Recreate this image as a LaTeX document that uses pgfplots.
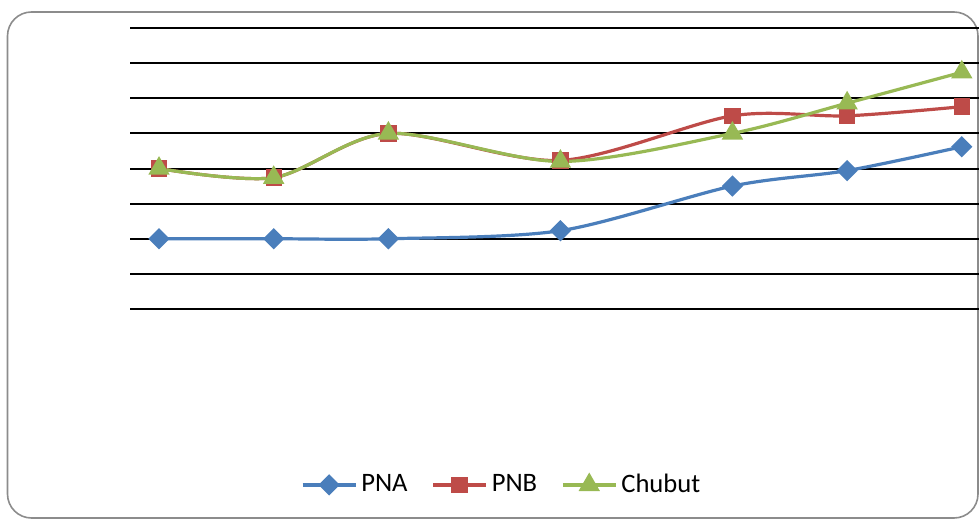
\documentclass[border=0pt]{standalone}
\usepackage{pgfplots}
\pgfplotsset{compat=1.18}
\usepackage{fontspec}
\setmainfont{Carlito}
\definecolor{cblue}{HTML}{4A7EBB}
\definecolor{cred}{HTML}{BE4B48}
\definecolor{cgreen}{HTML}{98B954}
\definecolor{cframe}{HTML}{8C8C8C}
\begin{document}
\begin{tikzpicture}[x=0.5pt,y=0.5pt]
\useasboundingbox (0,0) rectangle (979,520);
\clip (0,0) rectangle (979,520);
\draw[cframe, line width=0.8pt, rounded corners=12pt] (7.5,2) rectangle (978,508);
\begin{axis}[
  at={(130pt*0.5,211pt*0.5)}, anchor=south west,
  scale only axis, width=424.5pt, height=140.5pt,
  xmin=-0.506, xmax=14.30, ymin=0, ymax=8,
  ytick={0,1,...,8}, yticklabels={}, xtick=\empty,
  ymajorgrids, grid style={black, line width=1pt},
  major tick length=0pt,
  axis line style={draw=none},
  clip=false,
  every axis plot/.append style={line width=1.6pt, smooth},
  legend columns=3,
  legend style={draw=none, fill=none, at={(0.439,-0.626)}, anchor=center,
    font=\fontsize{13.3pt}{15pt}\selectfont,
    /tikz/every even column/.append style={column sep=10pt},
    inner sep=0pt},
  legend image code/.code={\draw[mark repeat=2,mark phase=2] plot coordinates {(0pt,0pt)(13.25pt,0pt)(26.5pt,0pt)};},
]
\addplot[cblue, mark=diamond*, mark size=5.6pt, mark options={yscale=0.75}] coordinates {
(0,2.0) (2,2.0) (4,2.0) (7,2.23) (10,3.5) (12,3.94) (14,4.62)};
\addlegendentry{PNA}
\addplot[cred, mark=square*, mark size=3.3pt] coordinates {
(0,4.0) (2,3.74) (4,5.0) (7,4.23) (10,5.5) (12,5.5) (14,5.76)};
\addlegendentry{PNB}
\addplot[cgreen, mark=triangle*, mark size=4.6pt] coordinates {
(0,4.0) (2,3.74) (4,5.0) (7,4.2) (10,5.0) (12,5.86) (14,6.74)};
\addlegendentry{Chubut}
\end{axis}
\end{tikzpicture}
\end{document}
